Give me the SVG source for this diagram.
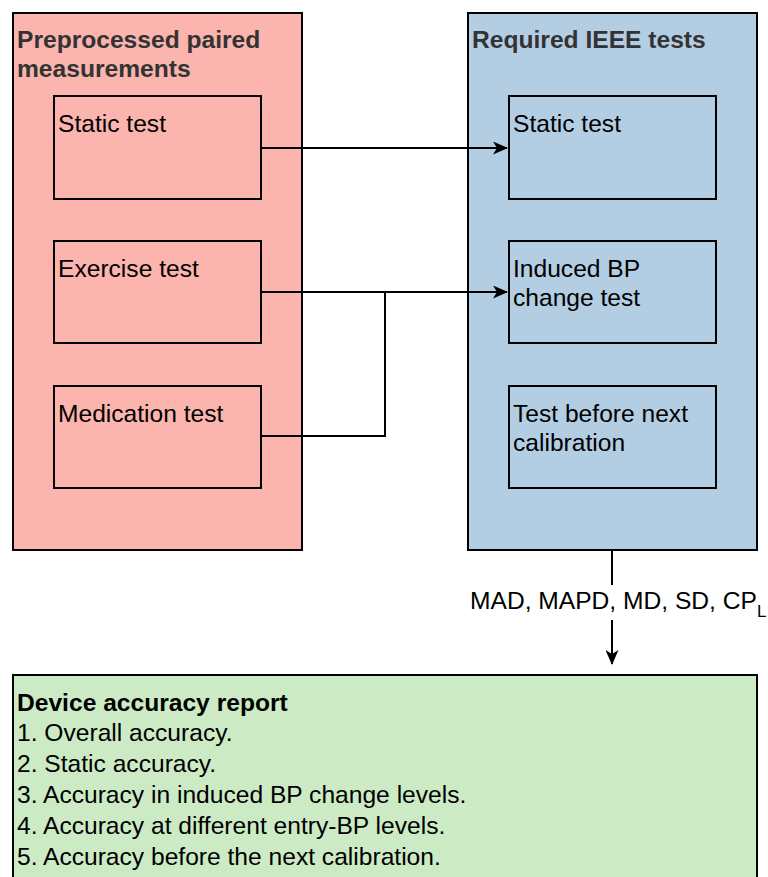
<svg xmlns="http://www.w3.org/2000/svg" width="768" height="877" viewBox="0 0 768 877">
<style>
text{font-family:"Liberation Sans",Arial,sans-serif;font-size:24.6px;fill:#000}
.t{font-weight:bold;fill:#333}
.b{font-weight:bold}
.box{stroke:#000;stroke-width:2}
.con{fill:none;stroke:#000;stroke-width:2}
</style>
<defs>
<marker id="arr" viewBox="0 0 15 13" refX="14" refY="6.5" markerWidth="15" markerHeight="13" markerUnits="userSpaceOnUse" orient="auto">
<path d="M0,0 L15,6.5 L0,13 L4,6.5 Z" fill="#000"/>
</marker>
</defs>
<g id="preprocessed">
<rect class="box" x="13" y="13" width="289" height="537" fill="#fbb4ae"/>
<text class="t" x="17" y="48">Preprocessed paired</text>
<text class="t" x="17" y="77">measurements</text>
</g>
<g id="required">
<rect class="box" x="468" y="13" width="289" height="537" fill="#b3cde3"/>
<text class="t" x="472" y="48">Required IEEE tests</text>
</g>
<g id="static-left">
<rect class="box" x="54" y="96" width="207" height="103" fill="#fbb4ae"/>
<text x="58" y="132">Static test</text>
</g>
<g id="exercise">
<rect class="box" x="54" y="241" width="207" height="102" fill="#fbb4ae"/>
<text x="58" y="277">Exercise test</text>
</g>
<g id="medication">
<rect class="box" x="54" y="386" width="207" height="102" fill="#fbb4ae"/>
<text x="58" y="422">Medication test</text>
</g>
<g id="static-right">
<rect class="box" x="509" y="96" width="207" height="103" fill="#b3cde3"/>
<text x="513" y="132">Static test</text>
</g>
<g id="induced">
<rect class="box" x="509" y="241" width="207" height="102" fill="#b3cde3"/>
<text x="513" y="277">Induced BP</text>
<text x="513" y="306">change test</text>
</g>
<g id="before-calibration">
<rect class="box" x="509" y="386" width="207" height="102" fill="#b3cde3"/>
<text x="513" y="422">Test before next</text>
<text x="513" y="451">calibration</text>
</g>
<g id="report">
<rect class="box" x="13" y="675" width="744" height="215" fill="#ccebc5"/>
<text class="b" x="17" y="711">Device accuracy report</text>
<text x="17" y="741">1. Overall accuracy.</text>
<text x="17" y="772">2. Static accuracy.</text>
<text x="17" y="803">3. Accuracy in induced BP change levels.</text>
<text x="17" y="834">4. Accuracy at different entry-BP levels.</text>
<text x="17" y="865">5. Accuracy before the next calibration.</text>
</g>
<g id="connectors">
<path class="con" d="M261,148 H507" marker-end="url(#arr)"/>
<path class="con" d="M261,292 H507" marker-end="url(#arr)"/>
<path class="con" d="M261,436 H385 V292"/>
<path class="con" d="M612,550 V585"/>
<path class="con" d="M612,620 V664" marker-end="url(#arr)"/>
<text x="470" y="609">MAD, MAPD, MD, SD, CP<tspan font-size="17" dy="8">L</tspan></text>
</g>
</svg>
